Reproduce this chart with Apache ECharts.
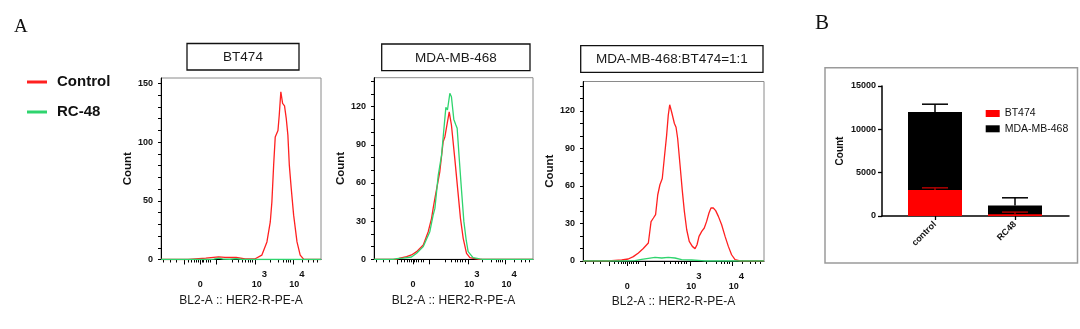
<!DOCTYPE html>
<html><head><meta charset="utf-8">
<script src="https://cdn.jsdelivr.net/npm/echarts@6/dist/echarts.min.js"></script>
<style>html,body{margin:0;padding:0;background:#fff}#c{width:1080px;height:329px}</style>
</head><body><div id="c"></div><script>
// ---------- DATA ----------
const panelTitles = ['BT474', 'MDA-MB-468', 'MDA-MB-468:BT474=1:1'];
const seriesNames = ['Control', 'RC-48'];
// x in display units (0..100 across logicle axis), y = Count
const bt474Control = [[0,0],[17,0],[28,1.1],[36,2.3],[40,1.8],[47,1.7],[52.6,0.6],[58.9,0.6],[63,3.7],[66.2,15],[68.3,32],[69.3,49],[70.4,80.4],[71.4,104.5],[73.1,110],[73.9,123],[74.9,143],[76,133],[77.2,131],[78.3,120],[79.3,106],[80.2,80.4],[81.4,60.5],[82.9,37.8],[85,15],[87,3.7],[89.1,0.3],[91,0],[100,0]];
const bt474Rc48 = [[0,0],[30,0],[33,0.4],[36,1.1],[39,0.3],[43,0.2],[47,0.8],[50,0.2],[53,0],[100,0]];
const mdaControl = [[0,0],[14,0],[16.3,1],[20.5,2.1],[23.6,3.4],[26.8,6],[31,11.3],[34.1,21.7],[36.2,32.2],[37.2,40],[38.3,48],[39.3,49],[41.4,69],[43.5,92.5],[44.6,96.4],[45.6,97.7],[47.3,116],[48.7,105.6],[50.8,79.4],[52.8,53],[54.4,32],[56.1,16.5],[58.2,4.7],[60.3,1.3],[64.4,0.3],[66,0],[100,0]];
const mdaRc48 = [[0,0],[12,0],[14.2,0.5],[18.4,1],[23.6,1.8],[26.8,4.7],[31,10],[35.1,21.7],[37.2,34.8],[38.3,40],[40.4,66],[42.5,82],[44,103],[45.2,119.5],[46.2,117.4],[47.7,130.5],[48.7,127.8],[50.2,110],[51.5,105.6],[52.3,103],[53.6,79.4],[55,55],[56.5,30],[58,15],[59.2,6],[62.3,1.3],[66.5,0.3],[68,0],[100,0]];
const mixControl = [[0,0],[14,0],[15.8,0.3],[21.4,0.8],[25,1.6],[27.8,3.5],[30.6,6.4],[33.3,10],[36.1,14.4],[37.6,31.5],[38.9,34.4],[40.1,37.1],[41.3,53],[42.5,61],[43.8,66],[44.9,82],[46.2,100.5],[47.1,116.5],[47.9,125],[49,119],[50.5,110],[51.4,107],[52.3,98],[53.6,77],[54.9,55.7],[56,39.7],[57.3,25],[58.7,15.7],[60.4,11.7],[61.9,9.9],[63,13],[64.1,19.7],[65.6,23.7],[67,26.4],[68.3,31.7],[69.6,38.4],[70.7,42.4],[72,42.4],[73.3,40.3],[74.8,35.7],[76.6,29],[78.5,19.7],[80.3,11.7],[82.1,5],[84,1.1],[86.7,0],[100,0]];
const mixRc48 = [[0,0],[21.4,0],[28.7,0.3],[32.4,1.3],[36.1,2.1],[39.8,2.9],[43.5,2.4],[47.1,2.9],[50.8,2.4],[54.5,1.1],[60,0.8],[65.6,0.3],[67.4,0],[100,0]];
const xLabelPos = [24.5, 59, 82.5];
const xLabelText = ['{b|0}', '{c|10}{s|3}', '{c|10}{s|4}'];
const xMajorTicks = [14.5, 24.5, 34.5, 59, 82.5];
const xMinorTicks = [1.5,5.6,9.8,17.1,19.2,20.9,22.3,23.4,25.6,26.5,28,29.6,30.7,44.7,48.4,50.9,52.6,54.3,55.7,57.2,68.3,73.5,76.6,78.3,79.7,80.8,88.1,92.3,95.4,97.9];
const yMax = [154.7, 142.8, 143.6];
const yLabelVals = [[0,50,100,150],[0,30,60,90,120],[0,30,60,90,120]];
const yTickVals = [[0,10,20,30,40,50,60,70,80,90,100,110,120,130,140,150],[0,10,20,30,40,50,60,70,80,90,100,110,120,130,140],[0,10,20,30,40,50,60,70,80,90,100,110,120,130,140]];
// panel B
const barCategories = ['control', 'RC48'];
const barNames = ['BT474', 'MDA-MB-468'];
const bt474Counts = [3000, 200];
const bt474Err = [250, 250];
const mdaCounts = [9000, 1000];
const mdaErr = [900, 900];
const bYTicks = [0, 5000, 10000, 15000];

// ---------- CHART ----------
const FONT = "'Liberation Sans', Arial, sans-serif";
const RED = '#ff2020', GREEN = '#2fd46e';
const panelData = [[bt474Control, bt474Rc48], [mdaControl, mdaRc48], [mixControl, mixRc48]];
const grids = [
  {left:161, top:78, width:160, height:181.5},
  {left:374, top:77.7, width:159, height:181.6},
  {left:583, top:81.5, width:181, height:179.5},
  {left:882, top:86, width:187, height:130}
];
const yNameGap = [24, 22, 26];
const xAxes = [], yAxes = [], series = [];
for (let i = 0; i < 3; i++) {
  xAxes.push({
    gridIndex:i, type:'value', min:0, max:100, position:'bottom',
    axisLine:{onZero:false, lineStyle:{color:'#000', width:1}},
    axisTick:{customValues:xMajorTicks, length:5, lineStyle:{color:'#000', width:1}},
    axisLabel:{customValues:xLabelPos, margin:10, color:'#111', fontSize:9, fontWeight:'bold',
      formatter:v => { const k = xLabelPos.indexOf(v); return k >= 0 ? xLabelText[k] : ''; },
      rich:{
        b:{fontSize:9, fontWeight:'bold', color:'#111', lineHeight:20, verticalAlign:'bottom'},
        c:{fontSize:9, fontWeight:'bold', color:'#111', lineHeight:20, verticalAlign:'bottom', padding:[0,0,0,8]},
        s:{fontSize:9.5, fontWeight:'bold', color:'#111', lineHeight:20, verticalAlign:'top'}
      }},
    splitLine:{show:false},
    name:'BL2-A :: HER2-R-PE-A', nameLocation:'middle', nameGap:33,
    nameTextStyle:{fontSize:12, color:'#1a1a1a', fontFamily:FONT}
  });
  xAxes.push({
    gridIndex:i, type:'value', min:0, max:100, position:'bottom',
    axisLine:{show:false}, axisLabel:{show:false}, splitLine:{show:false},
    axisTick:{customValues:xMinorTicks, length:3, lineStyle:{color:'#000', width:1}}
  });
  yAxes.push({
    gridIndex:i, type:'value', min:0, max:yMax[i],
    axisLine:{show:true, onZero:false, lineStyle:{color:'#000', width:1}},
    axisTick:{show:true, customValues:yTickVals[i], length:3, lineStyle:{color:'#000'}},
    axisLabel:{customValues:yLabelVals[i], margin:8, color:'#111', fontSize:9, fontWeight:'bold'},
    splitLine:{show:false},
    name:'Count', nameLocation:'middle', nameGap:yNameGap[i],
    nameTextStyle:{fontSize:11.5, fontWeight:'bold', color:'#111', fontFamily:FONT}
  });
  const [ctrl, rc] = panelData[i];
  series.push({type:'line', name:seriesNames[0], xAxisIndex:2*i, yAxisIndex:i, data:ctrl, symbol:'none', showSymbol:false, color:RED, lineStyle:{color:RED, width:1.3}, z:2});
  series.push({type:'line', name:seriesNames[1], xAxisIndex:2*i, yAxisIndex:i, data:rc, symbol:'none', showSymbol:false, color:GREEN, lineStyle:{color:GREEN, width:1.3}, z:3});
}
// panel B axes
xAxes.push({
  gridIndex:3, type:'value', min:0.3375, max:2.675,
  axisLine:{onZero:false, lineStyle:{color:'#000', width:1.5}},
  axisTick:{customValues:[1,2], length:4, lineStyle:{color:'#000', width:1.3}},
  axisLabel:{customValues:[1,2], formatter:v => barCategories[Math.round(v) - 1] || '', rotate:45, fontSize:9, fontWeight:'bold', color:'#111', margin:7},
  splitLine:{show:false}
});
yAxes.push({
  gridIndex:3, type:'value', min:0, max:15000,
  axisLine:{show:true, onZero:false, lineStyle:{color:'#000', width:1.5}},
  axisTick:{show:true, customValues:bYTicks, length:4, lineStyle:{color:'#000', width:1.3}},
  axisLabel:{customValues:bYTicks, formatter:v => String(v), margin:6, fontSize:9, fontWeight:'bold', color:'#111'},
  splitLine:{show:false},
  name:'Count', nameLocation:'middle', nameGap:37,
  nameTextStyle:{fontSize:10, fontWeight:'bold', color:'#111', fontFamily:FONT}
});
const bxi = 6, byi = 3;
// stacked bars: MDA-MB-468 segment sits on top of BT474 (drawn as total, BT474 overlaid)
series.push({type:'bar', name:barNames[1], xAxisIndex:bxi, yAxisIndex:byi, barWidth:54, barGap:'-100%', color:'#000000', itemStyle:{color:'#000000'}, z:2,
  data:mdaCounts.map((v, k) => [k + 1, v + bt474Counts[k]])});
series.push({type:'bar', name:barNames[0], xAxisIndex:bxi, yAxisIndex:byi, barWidth:54, barGap:'-100%', color:'#ff0000', itemStyle:{color:'#ff0000'}, z:3,
  data:bt474Counts.map((v, k) => [k + 1, v])});
function errRender(col) {
  return function (params, api) {
    const x = api.value(0), b = api.value(1), e = api.value(2);
    const p0 = api.coord([x, b]), p1 = api.coord([x, b + e]);
    const hw = 13;
    return {type:'group', children:[
      {type:'line', shape:{x1:p0[0], y1:p0[1], x2:p1[0], y2:p1[1]}, style:{stroke:col, lineWidth:1.5}},
      {type:'line', shape:{x1:p1[0] - hw, y1:p1[1], x2:p1[0] + hw, y2:p1[1]}, style:{stroke:col, lineWidth:1.5}}
    ]};
  };
}
series.push({type:'custom', name:'errBT', xAxisIndex:bxi, yAxisIndex:byi, z:5, renderItem:errRender('#b00000'),
  data:bt474Counts.map((v, k) => [k + 1, v, bt474Err[k]])});
series.push({type:'custom', name:'errMDA', xAxisIndex:bxi, yAxisIndex:byi, z:5, renderItem:errRender('#000000'),
  data:mdaCounts.map((v, k) => [k + 1, v + bt474Counts[k], mdaErr[k]])});

const titleBoxes = [
  {x:187, y:43.5, w:112, h:26.5},
  {x:381.7, y:44, w:148.3, h:26.7},
  {x:580.7, y:45.7, w:182.3, h:26.6}
];
const graphics = [];
titleBoxes.forEach((b, i) => {
  graphics.push({type:'rect', shape:{x:b.x, y:b.y, width:b.w, height:b.h}, style:{fill:'#fff', stroke:'#111', lineWidth:1.3}, z:10});
  graphics.push({type:'text', x:b.x + b.w / 2, y:b.y + b.h / 2 + 0.5, style:{text:panelTitles[i], fill:'#1a1a1a', font:'13.5px ' + FONT, textAlign:'center', textVerticalAlign:'middle'}, z:11});
});
graphics.push({type:'rect', shape:{x:825, y:67.7, width:252.5, height:195.3}, style:{fill:'none', stroke:'#9a9a9a', lineWidth:1.5}, z:1});
graphics.push({type:'text', x:14, y:27, style:{text:'A', fill:'#111', font:"19px 'Liberation Serif', 'DejaVu Serif', serif", textVerticalAlign:'middle'}});
graphics.push({type:'text', x:815, y:23, style:{text:'B', fill:'#111', font:"21px 'Liberation Serif', 'DejaVu Serif', serif", textVerticalAlign:'middle'}});

const chart = echarts.init(document.getElementById('c'), null, {renderer:'canvas', width:1080, height:329});
chart.setOption({
  animation:false,
  backgroundColor:'#fff',
  textStyle:{fontFamily:FONT},
  grid:grids.map((g, i) => Object.assign({show:i < 3, borderColor:'#8a8a8a', borderWidth:1, backgroundColor:'transparent', containLabel:false, outerBoundsMode:'none'}, g)),
  xAxis:xAxes,
  yAxis:yAxes,
  legend:[
    {data:seriesNames, orient:'vertical', left:27, top:73, padding:0, itemWidth:20, itemHeight:3, itemGap:12, icon:'rect', selectedMode:false,
      textStyle:{fontSize:15, fontWeight:'bold', color:'#111', fontFamily:FONT, lineHeight:18, padding:[0,0,0,5]}},
    {data:barNames, orient:'vertical', left:985.7, top:107, padding:0, itemWidth:14, itemHeight:7, itemGap:2.3, icon:'rect', selectedMode:false,
      textStyle:{fontSize:10.5, color:'#111', fontFamily:FONT, lineHeight:13}}
  ],
  graphic:graphics,
  series:series
});
</script></body></html>
